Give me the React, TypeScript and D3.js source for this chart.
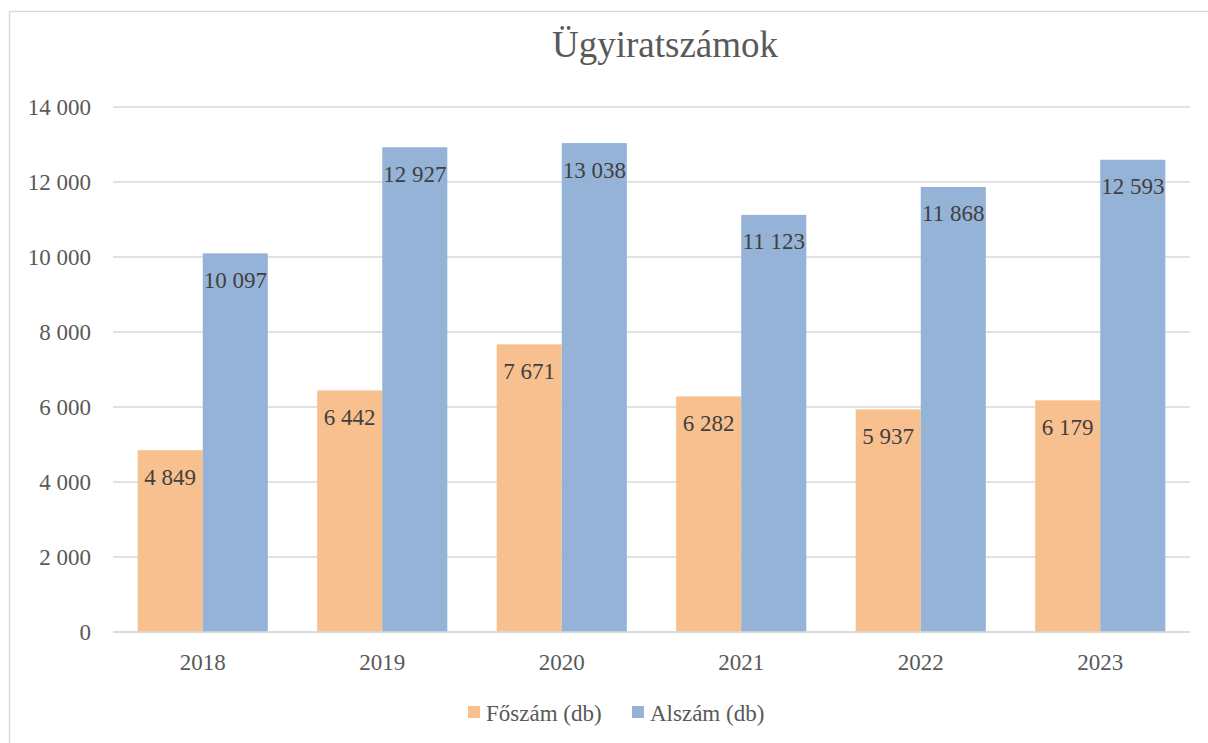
import React from "react";
import * as d3 from "d3";

const categories = ["2018", "2019", "2020", "2021", "2022", "2023"];
const foszam = [4849, 6442, 7671, 6282, 5937, 6179];
const alszam = [10097, 12927, 13038, 11123, 11868, 12593];
const seriesNames = ["Főszám (db)", "Alszám (db)"];
const seriesColors = ["#F9C08F", "#95B3D7"];
const yTicks = [0, 2000, 4000, 6000, 8000, 10000, 12000, 14000];

const W = 1208;
const H = 743;
const FONT = "'Liberation Serif', 'Times New Roman', serif";

const fmt = (v: number) => d3.format(",")(v).replace(/,/g, " ");

export default function App() {
  const left = 113, right = 1190, top = 107, bottom = 632;
  const x = d3.scaleBand<string>().domain(categories).range([left, right]).paddingInner(0).paddingOuter(0);
  const y = d3.scaleLinear().domain([0, 14000]).range([bottom, top]);
  const band = x.bandwidth();
  const barW = band * 0.3625;
  const series = [foszam, alszam];

  return (
    <svg width={W} height={H} style={{ position: "absolute", left: 0, top: 0, fontFamily: FONT }}>
      <rect x={0} y={0} width={W} height={H} fill="#fff" />
      <rect x={9.5} y={11.5} width={1240} height={800} fill="#fff" stroke="#d9d9d9" strokeWidth={1.3} />
      <text x={665} y={57} textAnchor="middle" fontSize={37} fill="#595959">Ügyiratszámok</text>
      {yTicks.map((t) => (
        <g key={t}>
          <line x1={left} x2={right} y1={y(t)} y2={y(t)} stroke="#d9d9d9" strokeWidth={1.3} />
          <text x={91} y={y(t)} textAnchor="end" dominantBaseline="central" fontSize={23} fill="#595959">{fmt(t)}</text>
        </g>
      ))}
      {categories.map((c, i) => {
        const cx = (x(c) as number) + band / 2;
        return (
          <g key={c}>
            {series.map((s, k) => {
              const bx = cx - barW + k * barW;
              return (
                <g key={k}>
                  <rect x={bx} y={y(s[i])} width={barW} height={bottom - y(s[i])} fill={seriesColors[k]} />
                  <text x={bx + barW / 2} y={y(s[i]) + 27} textAnchor="middle" dominantBaseline="central" fontSize={23} fill="#404040">{fmt(s[i])}</text>
                </g>
              );
            })}
            <text x={cx} y={662} textAnchor="middle" dominantBaseline="central" fontSize={23} fill="#595959">{c}</text>
          </g>
        );
      })}
      <line x1={left} x2={right} y1={bottom} y2={bottom} stroke="#d9d9d9" strokeWidth={1.3} />
      {[468, 632].map((lx, k) => (
        <g key={k}>
          <rect x={lx} y={706} width={12} height={12} fill={seriesColors[k]} />
          <text x={lx + 18} y={713} dominantBaseline="central" fontSize={23} fill="#595959">{seriesNames[k]}</text>
        </g>
      ))}
    </svg>
  );
}
